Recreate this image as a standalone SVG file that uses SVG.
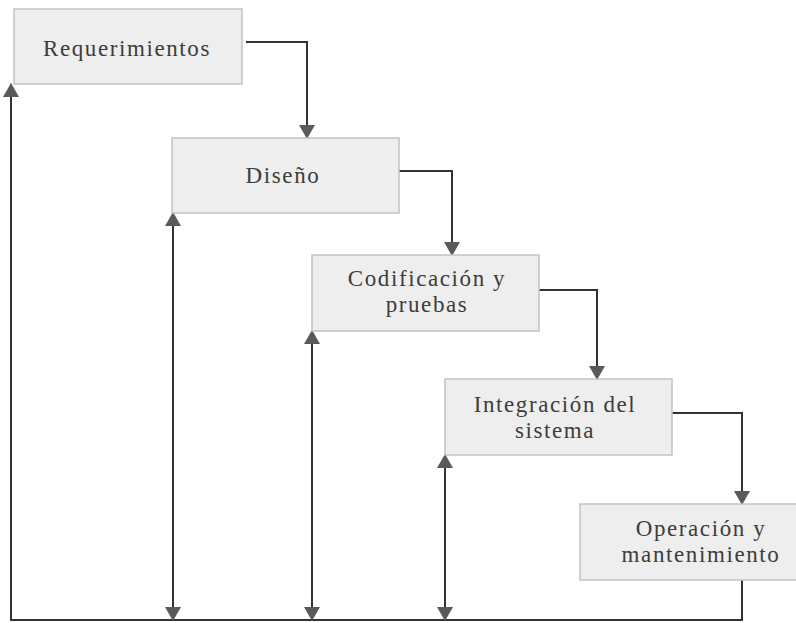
<svg xmlns="http://www.w3.org/2000/svg" width="796" height="623" viewBox="0 0 796 623">
  <style>
    .box { fill: #eeeeee; stroke: #c2c2c2; stroke-width: 1.5; }
    .lbl { font-family: "Liberation Serif", "DejaVu Serif", serif; font-size: 23px; letter-spacing: 1.6px; fill: #3c3c3c; text-anchor: middle; }
    .wire { fill: none; stroke: #333333; stroke-width: 2; }
  </style>
  <defs>
    <marker id="head" viewBox="0 0 14 16" refX="13" refY="8" markerWidth="14" markerHeight="16" markerUnits="userSpaceOnUse" orient="auto-start-reverse">
      <path d="M0,0 L14,8 L0,16 Z" fill="#5a5a5a"/>
    </marker>
  </defs>

  <rect width="796" height="623" fill="#ffffff"/>

  <g id="connectors">
    <!-- forward flow between phases -->
    <path class="wire" d="M246,42 H307 V138" marker-end="url(#head)"/>
    <path class="wire" d="M399,171 H452 V255" marker-end="url(#head)"/>
    <path class="wire" d="M539,290 H597 V379" marker-end="url(#head)"/>
    <path class="wire" d="M672,413 H742 V504" marker-end="url(#head)"/>
    <!-- return path along the bottom -->
    <path class="wire" d="M742,580 V620 H11 V84" marker-end="url(#head)"/>
    <!-- two-way feedback links -->
    <path class="wire" d="M173,620 V213" marker-start="url(#head)" marker-end="url(#head)"/>
    <path class="wire" d="M312,620 V331" marker-start="url(#head)" marker-end="url(#head)"/>
    <path class="wire" d="M445,620 V455" marker-start="url(#head)" marker-end="url(#head)"/>
  </g>

  <g id="requerimientos">
    <rect class="box" x="14" y="9" width="228" height="75"/>
    <text class="lbl" x="127" y="56">Requerimientos</text>
  </g>

  <g id="diseno">
    <rect class="box" x="172" y="138" width="227" height="75"/>
    <text class="lbl" x="283" y="183">Diseño</text>
  </g>

  <g id="codificacion">
    <rect class="box" x="312" y="255" width="227" height="76"/>
    <text class="lbl" x="427" y="286">Codificación y</text>
    <text class="lbl" x="427" y="312">pruebas</text>
  </g>

  <g id="integracion">
    <rect class="box" x="445" y="379" width="227" height="76"/>
    <text class="lbl" x="555" y="412">Integración del</text>
    <text class="lbl" x="555" y="438">sistema</text>
  </g>

  <g id="operacion">
    <rect class="box" x="580" y="504" width="228" height="76"/>
    <text class="lbl" x="701" y="536">Operación y</text>
    <text class="lbl" x="701" y="562">mantenimiento</text>
  </g>
</svg>
